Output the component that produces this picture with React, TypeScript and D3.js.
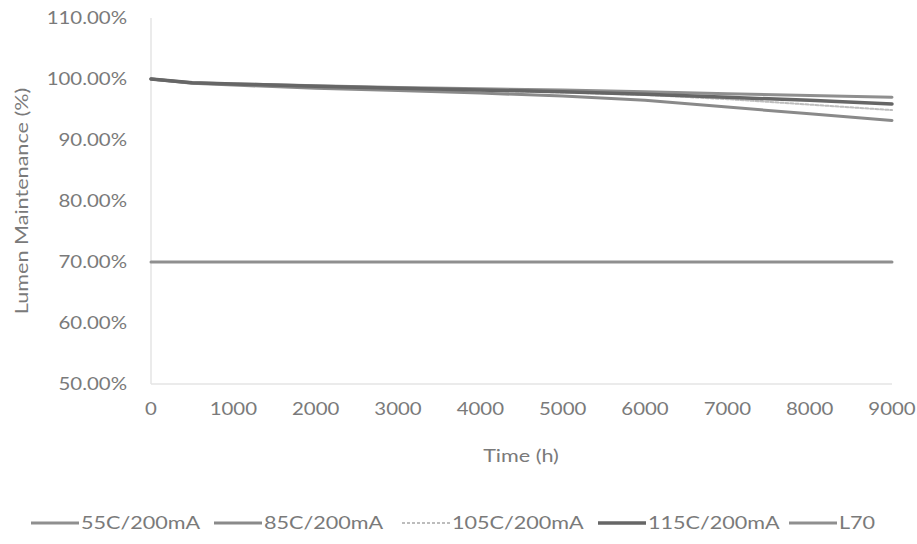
import React from "react";
import * as d3 from "d3";

const hours = [0, 500, 1000, 2000, 3000, 4000, 5000, 6000, 7000, 8000, 9000];
const s55 = [100, 99.4, 99.2, 98.9, 98.6, 98.4, 98.2, 97.9, 97.6, 97.3, 97.0];
const s85 = [100, 99.3, 99.0, 98.5, 98.1, 97.7, 97.2, 96.5, 95.4, 94.3, 93.2];
const s105 = [100, 99.4, 99.1, 98.7, 98.4, 98.1, 97.8, 97.4, 96.7, 95.8, 94.9];
const s115 = [100, 99.4, 99.2, 98.8, 98.5, 98.2, 97.9, 97.5, 97.0, 96.5, 95.9];
const l70 = [70, 70, 70, 70, 70, 70, 70, 70, 70, 70, 70];
const seriesNames = ["55C/200mA", "85C/200mA", "105C/200mA", "115C/200mA", "L70"];
const xTicks = [0, 1000, 2000, 3000, 4000, 5000, 6000, 7000, 8000, 9000];
const yTicks = [50, 60, 70, 80, 90, 100, 110];

const styles = [
  { color: "#8f8f8f", width: 3, dash: "" },
  { color: "#8a8a8a", width: 3, dash: "" },
  { color: "#bdbdbd", width: 2, dash: "3,2" },
  { color: "#666666", width: 3.5, dash: "" },
  { color: "#8f8f8f", width: 3, dash: "" },
];

const SX = 1.2;
const font = "Lato, 'Open Sans', sans-serif";
const txt = "#7a7a7a";

function T(props: { x: number; y: number; size: number; anchor?: string; rotate?: number; children: React.ReactNode }) {
  const { x, y, size, anchor = "start", rotate = 0, children } = props;
  return (
    <text
      transform={`translate(${x},${y}) rotate(${rotate}) scale(${SX},1)`}
      dy="0.35em"
      textAnchor={anchor}
      fontFamily={font}
      fontSize={size}
      fill={txt}
    >
      {children}
    </text>
  );
}

export default function App() {
  const W = 917, H = 544;
  const x = d3.scaleLinear().domain([0, 9000]).range([151, 892]);
  const y = d3.scaleLinear().domain([50, 110]).range([384, 18]);
  const data = [s55, s85, s105, s115, l70];
  const line = d3.line<number>().x((_, i) => x(hours[i])).y((d) => y(d));
  const legendX = [31, 214, 402, 598, 789];
  const legendLen = 48;
  const drawOrder = [4, 2, 0, 1, 3];
  return (
    <div style={{ position: "fixed", left: 0, top: 0 }}>
      <svg width={W} height={H} style={{ display: "block", background: "#fff" }}>
        <line x1={151} x2={151} y1={18} y2={384} stroke="#e4e4e4" strokeWidth={1.5} />
        <line x1={151} x2={892} y1={384} y2={384} stroke="#e4e4e4" strokeWidth={1.5} />
        {yTicks.map((t) => (
          <T key={t} x={127} y={y(t)} size={17} anchor="end">
            {t.toFixed(2) + "%"}
          </T>
        ))}
        {xTicks.map((t) => (
          <T key={t} x={x(t)} y={409} size={17} anchor="middle">
            {t}
          </T>
        ))}
        <T x={521} y={456} size={18} anchor="middle">Time (h)</T>
        <T x={22} y={201} size={18} anchor="middle" rotate={-90}>Lumen Maintenance (%)</T>
        {drawOrder.map((i) => (
          <path key={i} d={line(data[i]) || ""} fill="none" stroke={styles[i].color} strokeWidth={styles[i].width}
            strokeDasharray={styles[i].dash} strokeLinejoin="round" strokeLinecap="round" />
        ))}
        {seriesNames.map((n, i) => (
          <g key={n}>
            <line x1={legendX[i]} x2={legendX[i] + legendLen} y1={523} y2={523} stroke={styles[i].color}
              strokeWidth={styles[i].width} strokeDasharray={styles[i].dash} />
            <T x={legendX[i] + legendLen + 2} y={523} size={18}>{n}</T>
          </g>
        ))}
      </svg>
    </div>
  );
}
